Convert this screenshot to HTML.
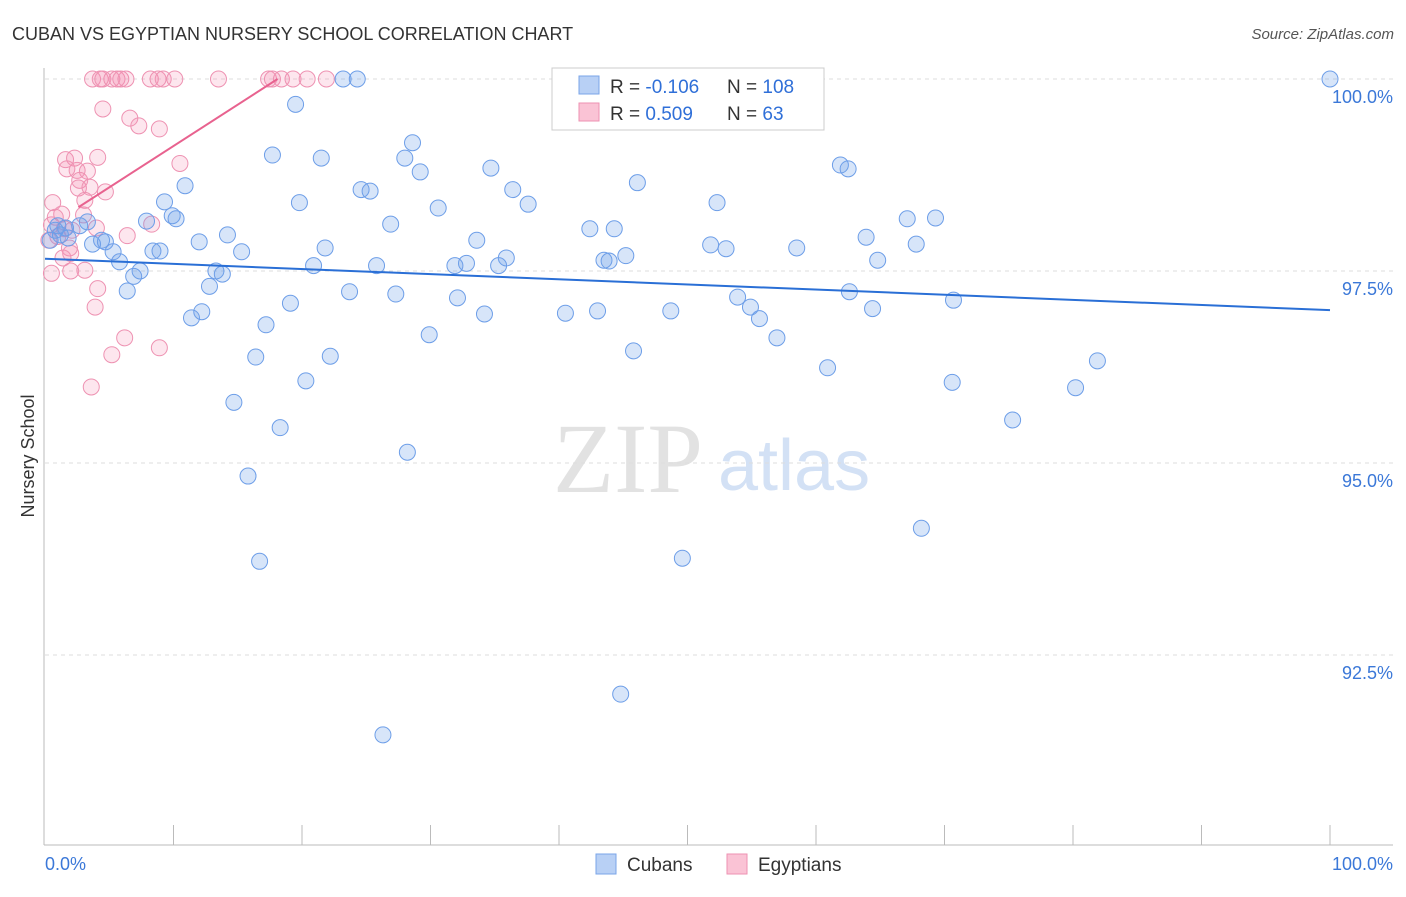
<!DOCTYPE html>
<html><head><meta charset="utf-8"><style>
body{margin:0;background:#fff;font-family:"Liberation Sans",sans-serif}
svg text{font-family:"Liberation Sans",sans-serif}
</style></head><body>
<svg id="chart" width="1406" height="892">
<text x="12" y="40" font-size="18" fill="#333">CUBAN VS EGYPTIAN NURSERY SCHOOL CORRELATION CHART</text>
<text x="1394" y="39" font-size="15" fill="#555" text-anchor="end" font-style="italic">Source: ZipAtlas.com</text>
<text x="34" y="456" font-size="18" fill="#333" text-anchor="middle" transform="rotate(-90 34 456)">Nursery School</text>
<g><text x="553" y="492" style="font-family:'Liberation Serif',serif;font-size:100px;fill:#e2e2e2">ZIP</text><text x="718" y="490" style="font-size:72px;fill:#d3e1f5">atlas</text></g>
<g id="grid"></g><g id="axes"></g><g id="pink"></g><g id="blue"></g><g id="lines"></g>
<g>
<rect x="552" y="68" width="272" height="62" fill="#fff" stroke="#ccc"/>
<rect x="579" y="76" width="20" height="18" fill="#b8d0f5" stroke="#7aa5e8"/>
<rect x="579" y="103" width="20" height="18" fill="#fac3d5" stroke="#ee92b2"/>
<text x="610" y="93" font-size="19" fill="#333">R = <tspan fill="#2f6fd8">-0.106</tspan></text>
<text x="727" y="93" font-size="19" fill="#333">N = <tspan fill="#2f6fd8">108</tspan></text>
<text x="610" y="120" font-size="19" fill="#333">R = <tspan fill="#2f6fd8"> 0.509</tspan></text>
<text x="727" y="120" font-size="19" fill="#333">N = <tspan fill="#2f6fd8">  63</tspan></text>
</g>
<g>
<rect x="596" y="854" width="20" height="20" fill="#b8d0f5" stroke="#7aa5e8"/>
<text x="627" y="871" font-size="19" fill="#333">Cubans</text>
<rect x="727" y="854" width="20" height="20" fill="#fac3d5" stroke="#ee92b2"/>
<text x="758" y="871" font-size="19" fill="#333">Egyptians</text>
</g>
</svg>
<script>
const yTicks=[100,97.5,95,92.5];
const yTickLabels=["100.0%","97.5%","95.0%","92.5%"];
const xTickLabels=["0.0%","100.0%"];
const blueX=[100,23.2,24.3,19.5,28.6,17.7,21.5,28.0,34.7,29.2,61.9,62.5,46.1,10.9,24.6,25.3,36.4,9.3,19.8,37.6,52.3,30.6,9.9,10.2,7.9,67.1,69.3,26.9,42.4,44.3,2.7,3.3,14.2,12.0,63.9,33.6,4.4,3.7,4.7,51.8,53.0,58.5,67.8,21.8,8.4,8.95,15.3,5.3,45.2,43.5,43.9,35.9,32.8,31.9,35.3,64.8,5.8,20.9,25.8,7.4,6.9,13.3,13.8,12.8,6.4,23.7,27.3,62.6,53.9,32.1,19.1,70.7,54.9,40.5,43.0,48.7,64.4,34.2,12.2,11.4,55.6,17.2,29.9,56.96,45.8,16.4,22.2,81.9,60.9,20.3,70.6,80.2,14.7,75.3,18.3,28.2,15.8,68.2,16.7,49.6,44.8,26.3,0.8,1.2,1.6,0.4,1.8,1.0];
const blueY=[100,100,100,99.67,99.17,99.01,98.97,98.97,98.84,98.79,98.88,98.83,98.65,98.61,98.56,98.54,98.56,98.40,98.39,98.37,98.39,98.32,98.22,98.18,98.15,98.18,98.19,98.11,98.05,98.05,98.09,98.14,97.97,97.88,97.94,97.90,97.90,97.85,97.88,97.84,97.79,97.80,97.85,97.80,97.76,97.76,97.75,97.75,97.70,97.64,97.63,97.67,97.60,97.57,97.57,97.64,97.62,97.57,97.57,97.5,97.43,97.5,97.46,97.30,97.24,97.23,97.20,97.23,97.16,97.15,97.08,97.12,97.03,96.95,96.98,96.98,97.01,96.94,96.97,96.89,96.88,96.80,96.67,96.63,96.46,96.38,96.39,96.33,96.24,96.07,96.05,95.98,95.79,95.56,95.46,95.14,94.83,94.15,93.72,93.76,91.99,91.46,98.03,97.97,98.06,97.90,97.93,98.09];
const pinkX=[3.7,4.3,4.5,5.2,5.6,5.9,6.3,8.2,8.8,9.2,10.1,13.5,17.4,17.7,18.4,19.3,20.4,21.9,4.5,6.6,7.3,8.9,4.1,1.6,2.3,10.5,1.7,2.5,3.3,2.7,2.6,3.5,4.7,3.1,0.6,3.0,1.3,2.1,4.0,8.3,6.4,1.9,2.0,1.4,3.1,2.0,0.5,4.1,3.9,6.2,8.9,5.2,3.6,0.5,1.0,0.3,1.5,0.8];
const pinkY=[100,100,100,100,100,100,100,100,100,100,100,100,100,100,100,100,100,100,99.61,99.49,99.39,99.35,98.98,98.95,98.97,98.90,98.83,98.81,98.80,98.68,98.58,98.59,98.53,98.42,98.39,98.23,98.24,98.03,98.06,98.11,97.96,97.80,97.73,97.67,97.51,97.50,97.47,97.27,97.03,96.63,96.50,96.41,95.99,98.1,97.95,97.9,98.05,98.2];
const blueTrendX=[0,100], blueTrendY=[97.66,96.99];
const pinkTrendX=[2.6,18.1], pinkTrendY=[98.33,100];
const NS="http://www.w3.org/2000/svg";
const sx=v=>45+v*12.85, sy=v=>79+(100-v)*76.8;
function mk(tag,attrs,parent){const e=document.createElementNS(NS,tag);for(const k in attrs)e.setAttribute(k,attrs[k]);document.getElementById(parent).appendChild(e);return e;}
yTicks.forEach((t,i)=>{
 let g=mk('line',{x1:45,x2:1393,y1:sy(t),y2:sy(t),stroke:'#ddd','stroke-dasharray':'4,4'},'grid');
 
 
 let l=mk('text',{x:1393,y:sy(t)+24,'font-size':18,fill:'#3b78d8','text-anchor':'end'},'axes');l.textContent=yTickLabels[i];
 
 
});
mk('line',{x1:44,x2:44,y1:68,y2:845,stroke:'#bbb'},'axes');
mk('line',{x1:44,x2:1393,y1:845,y2:845,stroke:'#bbb'},'axes');
for(let i=1;i<=10;i++){let t=mk('line',{x1:sx(i*10),x2:sx(i*10),y1:825,y2:845,stroke:'#bbb'},'axes');
 
 }
[[0,'start',45],[100,'end',1393]].forEach((a,i)=>{let l=mk('text',{x:a[2],y:870,'font-size':18,fill:'#3b78d8','text-anchor':a[1]},'axes');l.textContent=xTickLabels[i];
 
 });
pinkX.forEach((v,i)=>{let c=mk('circle',{cx:sx(v),cy:sy(pinkY[i]),r:8,fill:'rgba(244,140,178,0.22)',stroke:'#ee92b2','stroke-width':1},'pink');
 
 });
blueX.forEach((v,i)=>{let c=mk('circle',{cx:sx(v),cy:sy(blueY[i]),r:8,fill:'rgba(110,160,235,0.28)',stroke:'#6d9ee8','stroke-width':1},'blue');
 
 });
let bl=mk('line',{x1:sx(blueTrendX[0]),y1:sy(blueTrendY[0]),x2:sx(blueTrendX[1]),y2:sy(blueTrendY[1]),stroke:'#2a6fd6','stroke-width':2},'lines');


let pl=mk('line',{x1:sx(pinkTrendX[0]),y1:sy(pinkTrendY[0]),x2:sx(pinkTrendX[1]),y2:sy(pinkTrendY[1]),stroke:'#e8628f','stroke-width':2},'lines');


</script>
</body></html>
